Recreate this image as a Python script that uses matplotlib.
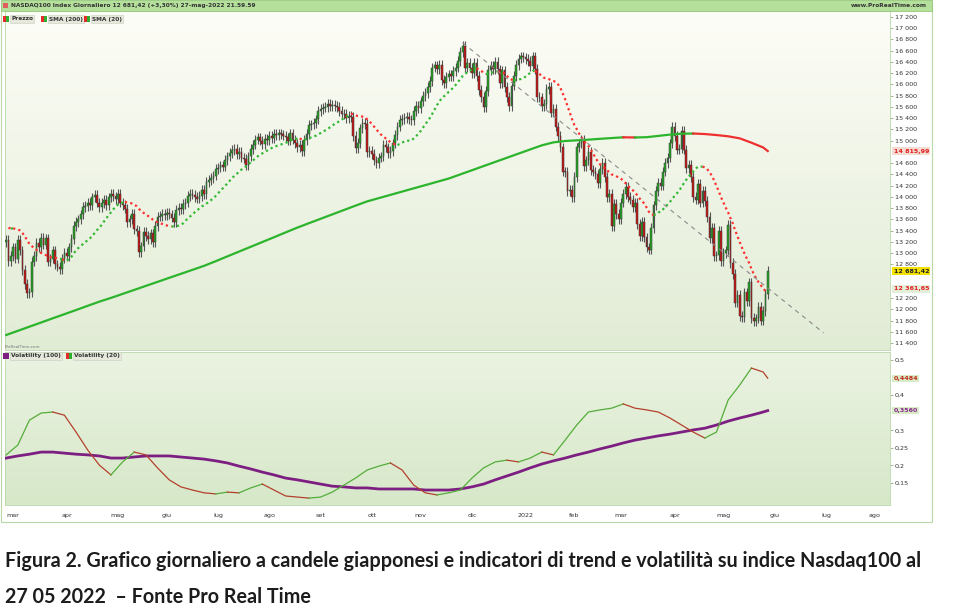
import matplotlib
matplotlib.use("Agg")
import matplotlib.pyplot as plt
import matplotlib.transforms as mtransforms
from matplotlib.colors import LinearSegmentedColormap
from matplotlib.patches import Rectangle
import numpy as np
import pandas as pd

W, H = 977, 610

# ---- data (NASDAQ100 daily, 24-feb-2021 .. 27-mag-2022) ----
first_session = "2021-02-24"
last_axis_day = "2022-08-12"

# closes of the 19 sessions before the chart, only used for SMA(20)
hist_closes = [13270, 13340, 12925, 13200, 13400, 13400, 13600, 13610, 13650, 13650,
               13600, 13700, 13800, 13750, 13700, 13600, 13600, 13250, 13200]

closes = [
    13230, 12860, 12950, 13100, 12900, 13230, 13050, 12700, 12450, 12290,
    12300, 12850, 12950, 13180, 13110, 13270, 13150, 13260, 12850, 12900,
    13050, 12800, 12760, 12720, 12900, 13000, 12950, 13100, 13250, 13480,
    13550, 13600, 13690, 13820, 13840, 13900, 13850, 13990, 14040, 13900,
    13820, 13890, 13950, 13860, 13990, 14050, 14010, 13960, 14060, 13900,
    13860, 13790, 13550, 13600, 13700, 13420, 13390, 13020, 13120, 13380,
    13300, 13250, 13350, 13200, 13480, 13650, 13660, 13700, 13680, 13710,
    13690, 13630, 13550, 13770, 13800, 13780, 13870, 13900, 14020, 14060,
    14040, 14000, 13970, 14020, 14120, 14050, 14260, 14300, 14340, 14380,
    14500, 14520, 14560, 14540, 14660, 14720, 14780, 14830, 14850, 14760,
    14800, 14700, 14680, 14560, 14720, 14850, 14930, 15020, 15060, 15000,
    14940, 15030, 15010, 15080, 15050, 15120, 15100, 15130, 15110, 15090,
    15060, 15000, 15130, 15020, 14950, 14880, 14930, 14820, 15010, 15120,
    15280, 15290, 15310, 15380, 15530, 15560, 15590, 15600, 15650, 15610,
    15640, 15620, 15600, 15530, 15480, 15470, 15400, 15440, 15420, 15080,
    14870, 14960, 15220, 15310, 15300, 14800, 14820, 14760, 14650, 14600,
    14700, 14720, 14920, 14880, 14780, 14820, 14950, 15100, 15250, 15370,
    15390, 15400, 15430, 15380, 15360, 15530, 15620, 15580, 15700, 15790,
    15850, 15950, 16060, 16300, 16340, 16280, 16350, 16080, 16020, 16140,
    16180, 16150, 16240, 16300, 16420, 16580, 16690, 16300, 16380, 16300,
    16200, 16390, 16150, 15900, 15780, 15600, 15880, 16260, 16330, 16280,
    16400, 16270, 16030, 16250, 15950, 15780, 15620, 15980, 16150, 16350,
    16460, 16500, 16480, 16450, 16420, 16320, 16500, 16280, 15780, 15770,
    15620, 15650, 15920, 15950, 15500, 15560, 15250, 15080, 14880, 14450,
    14440, 14100, 14130, 14000, 14350, 14880, 14950, 15010, 14550, 14650,
    14800, 14480, 14450, 14400, 14250, 14500, 14600, 14350, 14000, 14050,
    13480, 13870, 13700, 13600, 13900, 14050, 14180, 14000, 13950, 13820,
    13900, 13520, 13300, 13550, 13280, 13100, 13060, 13450, 13850, 14100,
    14250, 14200, 14450, 14600, 14700, 14950, 15240, 15080, 14840, 14860,
    15170, 14840, 14510, 14570, 14350, 14000, 13950, 14230, 13900, 14100,
    13930, 13640, 13270, 13450, 12950, 12960, 13400, 12855, 13000, 13050,
    13500, 12820, 12630, 12120, 12250, 11880, 11860, 12300, 12150, 12480,
    11850, 11790, 11840, 12040, 11800, 11970, 12276, 12681.42,
]

# SMA(200) read every 5 sessions (last value = 27-mag)
sma200_read = [
    11543, 11617, 11691, 11765, 11840, 11913, 11987, 12062, 12136, 12203,
    12274, 12345, 12417, 12488, 12560, 12631, 12702, 12774, 12856, 12942,
    13027, 13112, 13197, 13282, 13368, 13453, 13532, 13610, 13688, 13766,
    13844, 13920, 13978, 14036, 14094, 14152, 14210, 14268, 14326, 14400,
    14474, 14548, 14622, 14696, 14770, 14844, 14917, 14970, 14994, 15006,
    15018, 15033, 15047, 15060, 15057, 15062, 15085, 15108, 15124, 15127,
    15118, 15100, 15078, 15041, 14964, 14880, 14815.99,
]

# volatility read every 5 sessions (last value = 27-mag)
vol100 = [
    0.221, 0.227, 0.232, 0.238, 0.238, 0.235, 0.232, 0.230, 0.227, 0.221,
    0.221, 0.224, 0.227, 0.227, 0.227, 0.224, 0.221, 0.218, 0.213, 0.207,
    0.198, 0.190, 0.181, 0.173, 0.164, 0.159, 0.153, 0.147, 0.141, 0.139,
    0.136, 0.136, 0.133, 0.133, 0.133, 0.133, 0.130, 0.130, 0.130, 0.133,
    0.139, 0.147, 0.159, 0.170, 0.181, 0.193, 0.204, 0.213, 0.221, 0.230,
    0.238, 0.247, 0.255, 0.264, 0.272, 0.278, 0.284, 0.289, 0.295, 0.301,
    0.306, 0.315, 0.326, 0.335, 0.343, 0.352, 0.356,
]
vol20 = [
    0.230, 0.258, 0.329, 0.349, 0.352, 0.343, 0.295, 0.244, 0.201, 0.173,
    0.210, 0.238, 0.230, 0.193, 0.159, 0.139, 0.130, 0.122, 0.119, 0.124,
    0.122, 0.136, 0.147, 0.130, 0.113, 0.110, 0.107, 0.110, 0.124, 0.144,
    0.164, 0.187, 0.198, 0.207, 0.187, 0.144, 0.122, 0.116, 0.122, 0.130,
    0.164, 0.193, 0.210, 0.215, 0.210, 0.221, 0.238, 0.230, 0.272, 0.315,
    0.352, 0.358, 0.363, 0.375, 0.363, 0.358, 0.352, 0.335, 0.315, 0.295,
    0.278, 0.295, 0.386, 0.429, 0.477, 0.466, 0.4484,
]

# dashed trend line (session, price)
trend_sessions = [196, 351]
trend_prices = [16740, 11580]

month_names = ["gen", "feb", "mar", "apr", "mag", "giu", "lug", "ago",
               "set", "ott", "nov", "dic"]

# ---- derived ----
c = np.array(closes, dtype=float)
n = len(c)
idx = np.arange(n)
o = np.r_[hist_closes[-1], c[:-1]]
wick = 85
hi = np.maximum(o, c) + wick
lo = np.minimum(o, c) - wick

allc = np.r_[hist_closes, c]
sma20 = pd.Series(allc).rolling(20).mean().to_numpy()[len(hist_closes):]

knots = np.r_[np.arange(0, n - 2, 5), n - 1]

days = pd.bdate_range(first_session, last_axis_day)
mstart = [i for i in range(1, len(days)) if days[i].month != days[i - 1].month]
mlabels = [("2022" if days[i].month == 1 else month_names[days[i].month - 1]) for i in mstart]

GREEN = "#2fae2f"
RED = "#e52b2b"


def colored_runs(ax, x, y, up, down, **kw):
    rising = np.r_[y[1] >= y[0], np.diff(y) >= 0]
    start = 0
    for k in range(1, len(x) + 1):
        if k == len(x) or rising[k] != rising[start]:
            s = max(start - 1, 0)
            ax.plot(x[s:k], y[s:k], color=up if rising[start] else down, **kw)
            start = k


def gradient(ax, top, bottom):
    cmap = LinearSegmentedColormap.from_list("bg", [top, bottom])
    ax.imshow(np.linspace(0, 1, 256)[:, None], aspect="auto", cmap=cmap,
              extent=[0, 1, 0, 1], transform=ax.transAxes, zorder=0)


def px(x0, y0, x1, y1):
    return [x0 / W, 1 - y1 / H, (x1 - x0) / W, (y1 - y0) / H]


def icon(x, y, c1, c2):
    for k, col in enumerate([c1, c2]):
        fig.patches.append(Rectangle(((x + 3 * k) / W, 1 - (y + 3) / H), 3 / W, 6 / H,
                                     transform=fig.transFigure, facecolor=col, zorder=5))


fig = plt.figure(figsize=(W / 100, H / 100), dpi=100)
fig.patch.set_facecolor("white")

# outer frame + header bar
fig.patches.append(Rectangle((1 / W, 1 - 522 / H), 931 / W, 521 / H, transform=fig.transFigure,
                             facecolor="none", edgecolor="#b8d8a8", lw=0.8, zorder=-1))
fig.patches.append(Rectangle((1 / W, 1 - 11 / H), 931 / W, 10.5 / H, transform=fig.transFigure,
                             facecolor="#b4e09c", edgecolor="#94c97c", lw=0.6, zorder=1))
fig.text(11 / W, 1 - 5.5 / H, "NASDAQ100 Index Giornaliero 12 681,42 (+3,30%) 27-mag-2022 21.59.59",
         fontsize=4.2, fontweight="bold", color="#333333", va="center", ha="left")
fig.text(927 / W, 1 - 5.5 / H, "www.ProRealTime.com", fontsize=4.2, fontweight="bold",
         color="#333333", va="center", ha="right")
fig.patches.append(Rectangle((3 / W, 1 - 8 / H), 5 / W, 5 / H, transform=fig.transFigure,
                             facecolor="#e06060", edgecolor="none", zorder=2))

# ---- price panel ----
ax = fig.add_axes(px(5, 11, 890, 350))
gradient(ax, "#fdfdf7", "#e1ecd5")
ax.vlines(idx, lo, hi, color="#555555", lw=0.8, zorder=2)
up = c >= o
body_h = np.maximum(np.abs(c - o), 12)
ax.bar(idx, body_h, bottom=np.minimum(o, c), width=0.75,
       color=np.where(up, "#23a523", "#c81414"), edgecolor="#3a3a3a", lw=0.35, zorder=3)
colored_runs(ax, idx[1:], sma20[1:], "#33b833", "#ff3030", ls=(0, (1, 1.4)), lw=1.6, zorder=4)
colored_runs(ax, knots.astype(float), np.array(sma200_read), "#2db42d", "#ee3030", lw=1.6, zorder=4)
ax.plot(trend_sessions, trend_prices, color="#8a8a8a", ls=(0, (4, 4)), lw=0.8, zorder=4)

ax.set_xlim(-0.5, 379.5)
ax.set_ylim(11276, 17307)
ax.set_xticks([])
pticks = [v for v in range(11400, 17201, 200) if v not in (14800, 12600, 12400)]
ax.yaxis.tick_right()
ax.set_yticks(pticks)
ax.set_yticklabels([f"{v:,}".replace(",", " ") for v in pticks])
ax.tick_params(axis="y", labelsize=4.6, length=2, width=0.5, color="#7a9a6a",
               labelcolor="#333333", pad=1.5)
for s in ax.spines.values():
    s.set_color("#b8d8a8")
    s.set_linewidth(0.6)

tr = mtransforms.blended_transform_factory(ax.transAxes, ax.transData)
ax.text(1.004, 14815.99, "14 815,99", transform=tr, fontsize=4.6, fontweight="bold", color="#e02020",
        va="center", ha="left", bbox=dict(facecolor="#f4dcd2", edgecolor="none", pad=0.8))
ax.text(1.004, 12681.42, "12 681,42", transform=tr, fontsize=4.6, fontweight="bold", color="#222222",
        va="center", ha="left", bbox=dict(facecolor="#f2e000", edgecolor="none", pad=0.8))
ax.text(1.004, 12361.65, "12 361,65", transform=tr, fontsize=4.6, fontweight="bold", color="#e02020",
        va="center", ha="left", bbox=dict(facecolor="#e3efd8", edgecolor="none", pad=0.8))

# legend row
for name, lx in [("Prezzo", 3), ("SMA (200)", 41), ("SMA (20)", 84)]:
    icon(lx, 19, RED, GREEN)
    fig.text((lx + 8) / W, 1 - 19 / H, name, fontsize=4.2, fontweight="bold", color="#333333",
             va="center", ha="left",
             bbox=dict(facecolor="#e6e8dc", edgecolor="#c8cfc0", lw=0.4, pad=0.9))
fig.text(5 / W, 1 - 347 / H, "ProRealTime.com", fontsize=3, color="#777777", va="center")

# ---- volatility panel ----
ax2 = fig.add_axes(px(5, 352, 890, 505))
gradient(ax2, "#ebf3e2", "#d7e8c9")
ax2.plot(knots, vol100, color="#7d1f82", lw=2.0, zorder=3)
colored_runs(ax2, knots.astype(float), np.array(vol20), "#54ad3a", "#b4402c", lw=0.9, zorder=4)
ax2.set_xlim(-0.5, 379.5)
ax2.set_ylim(0.0874, 0.5228)
vticks = [0.15, 0.2, 0.25, 0.3, 0.4, 0.5]
ax2.yaxis.tick_right()
ax2.set_yticks(vticks)
ax2.set_yticklabels([f"{v:.2f}".rstrip("0").replace(".", ",") for v in vticks])
ax2.tick_params(axis="y", labelsize=4.6, length=2, width=0.5, color="#7a9a6a",
                labelcolor="#333333", pad=1.5)
ax2.set_xticks(mstart)
ax2.set_xticklabels(mlabels)
ax2.tick_params(axis="x", labelsize=4.6, length=0, labelcolor="#333333", pad=6)
for s in ax2.spines.values():
    s.set_color("#b8d8a8")
    s.set_linewidth(0.6)
tr2 = mtransforms.blended_transform_factory(ax2.transAxes, ax2.transData)
ax2.text(1.004, 0.4484, "0,4484", transform=tr2, fontsize=4.6, fontweight="bold", color="#c02a1a",
         va="center", ha="left", bbox=dict(facecolor="#d9ecc8", edgecolor="none", pad=0.8))
ax2.text(1.004, 0.3560, "0,3560", transform=tr2, fontsize=4.6, fontweight="bold", color="#8a2a8a",
         va="center", ha="left", bbox=dict(facecolor="#d9ecc8", edgecolor="none", pad=0.8))

for name, lx, c1, c2 in [("Volatility (100)", 3, "#7d1f82", "#7d1f82"),
                         ("Volatility (20)", 66, RED, GREEN)]:
    icon(lx, 356, c1, c2)
    fig.text((lx + 8) / W, 1 - 356 / H, name, fontsize=4.2, fontweight="bold", color="#333333",
             va="center", ha="left",
             bbox=dict(facecolor="#e6e8dc", edgecolor="#c8cfc0", lw=0.4, pad=0.9))

# ---- caption ----
cap_font = ["Lato", "DejaVu Sans"]
fig.text(5 / W, 1 - 561 / H,
         "Figura 2. Grafico giornaliero a candele giapponesi e indicatori di trend e volatilità su indice Nasdaq100 al",
         fontsize=14.2, family=cap_font, fontweight="bold", color="#1c1c1c", va="center", ha="left")
fig.text(5 / W, 1 - 597 / H, "27 05 2022  \u2013 Fonte Pro Real Time",
         fontsize=14.2, family=cap_font, fontweight="bold", color="#1c1c1c", va="center", ha="left")

fig.savefig("out.png", dpi=100, facecolor="white")
